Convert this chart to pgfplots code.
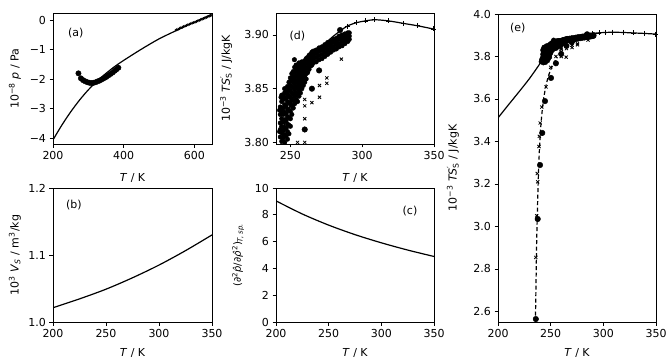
\documentclass[border=0pt]{standalone}
\usepackage{fontspec}
\setmainfont{DejaVu Sans}
\usepackage{pgfplots}
\usepackage{pgfplotstable}
\pgfplotsset{compat=1.18}

% spinodal pressure, panel (a)
\pgfplotstableread{
T p
200 -4.06
225 -3.56
250 -3.11
275 -2.71
300 -2.36
325 -2.06
350 -1.80
375 -1.565
400 -1.36
450 -0.98
500 -0.63
550 -0.34
600 -0.06
648 0.20
}\spin
\pgfplotstableread{
T p
272 -1.80
279 -1.97
285 -2.03
291 -2.07
297 -2.10
303 -2.12
309 -2.13
315 -2.12
321 -2.10
327 -2.07
333 -2.04
339 -2.00
345 -1.96
351 -1.92
357 -1.87
363 -1.82
369 -1.77
375 -1.71
380 -1.66
385 -1.61
}\spindots
\pgfplotstableread{
T p
548 -0.33
552 -0.31
556 -0.29
560 -0.26
564 -0.24
568 -0.22
572 -0.20
576 -0.18
580 -0.16
584 -0.14
588 -0.12
592 -0.10
596 -0.08
600 -0.07
604 -0.05
608 -0.03
612 -0.01
616 0.01
620 0.03
624 0.05
628 0.07
632 0.09
636 0.11
640 0.13
644 0.15
647 0.17
}\spinx
% TS' along the curve, panels (d) and (e)
\pgfplotstableread{
T y
200 3.511
210 3.573
220 3.634
230 3.697
240 3.768
245 3.811
250 3.835
255 3.853
260 3.866
265 3.877
270 3.886
275 3.893
280 3.899
285 3.904
289.6 3.9083
295.8 3.9114
302.1 3.9131
308.7 3.9142
318.5 3.9131
328.7 3.9108
338.5 3.9086
349.5 3.9056
}\tscurve
\pgfplotstableread{
T y
289.6 3.9083
295.8 3.9114
302.1 3.9131
308.7 3.9142
318.5 3.9131
328.7 3.9108
338.5 3.9086
349.5 3.9056
}\tsplus
% scattered simulation points
\pgfplotstableread{
T y
241 3.775
241.5 3.785
242 3.792
242 3.780
243 3.770
243.5 3.785
244 3.790
244.5 3.778
245 3.772
246 3.787
246.5 3.793
247 3.780
248 3.790
249 3.797
242.5 3.810
242.5 3.830
243.5 3.842
246 3.850
248 3.852
249 3.856
250 3.860
247.5 3.847
243 3.798
243 3.805
243 3.812
243 3.818
243 3.826
243 3.833
244 3.801
244 3.809
244 3.815
244 3.822
244 3.829
244 3.838
244 3.844
245 3.797
245 3.804
245 3.811
245 3.819
245 3.826
245 3.832
245 3.840
246 3.800
246 3.807
246 3.814
246 3.821
246 3.828
246 3.835
246 3.842
246 3.846
247 3.798
247 3.806
247 3.813
247 3.820
247 3.827
247 3.834
247 3.841
248 3.803
248 3.810
248 3.817
248 3.824
248 3.831
248 3.838
248 3.845
249 3.808
249 3.816
249 3.823
249 3.830
249 3.837
249 3.843
249 3.849
250 3.815
250 3.822
250 3.829
250 3.836
250 3.842
250 3.848
250 3.853
251 3.826
251 3.834
251 3.840
251 3.846
251 3.852
251 3.858
251 3.864
252 3.832
252 3.839
252 3.845
252 3.851
252 3.856
252 3.861
252 3.866
253 3.836
253 3.843
253 3.849
253 3.855
253 3.860
253 3.865
253 3.870
254 3.840
254 3.846
254 3.852
254 3.857
254 3.862
254 3.867
254 3.872
255 3.838
255 3.845
255 3.851
255 3.856
255 3.861
255 3.866
255 3.871
256 3.843
256 3.849
256 3.854
256 3.859
256 3.864
256 3.869
256 3.874
257 3.846
257 3.852
257 3.857
257 3.862
257 3.867
257 3.872
258 3.850
258 3.855
258 3.860
258 3.865
258 3.870
258 3.875
259 3.853
259 3.858
259 3.863
259 3.868
259 3.873
260 3.856
260 3.861
260 3.866
260 3.871
260 3.876
261 3.859
261 3.864
261 3.869
261 3.874
261 3.878
262 3.865
262 3.870
262 3.874
262 3.879
263 3.868
263 3.873
263 3.877
263 3.881
264 3.871
264 3.875
264 3.879
264 3.882
265 3.872
265 3.876
265 3.880
265 3.884
266 3.874
266 3.878
266 3.882
266 3.885
268 3.875
268 3.879
268 3.883
268 3.886
270 3.877
270 3.881
270 3.885
270 3.888
272 3.878
272 3.882
272 3.886
272 3.889
274 3.880
274 3.884
274 3.888
274 3.891
276 3.882
276 3.886
276 3.890
276 3.893
278 3.884
278 3.888
278 3.891
278 3.894
280 3.886
280 3.889
280 3.893
280 3.896
282 3.887
282 3.891
282 3.894
282 3.897
284 3.889
284 3.892
284 3.896
284 3.899
286 3.890
286 3.894
286 3.897
286 3.900
288 3.892
288 3.895
288 3.898
288 3.901
290 3.894
290 3.897
290 3.900
290 3.902
291 3.896
291 3.899
291 3.902
252.8 3.877
257.5 3.874
}\band
\pgfplotstableread{
T y
235.9 2.564
237.7 3.035
239.9 3.289
242 3.440
244.6 3.590
250.3 3.699
255 3.768
260 3.812
265 3.850
270 3.867
284.6 3.9046
}\bigdots
\pgfplotstableread{
T y
235.9 2.854
236.7 3.050
237.3 3.249
237.7 3.210
238.9 3.376
239.2 3.424
240 3.487
241.6 3.562
245.6 3.657
250 3.749
255 3.800
260 3.800
264.7 3.797
260 3.822
260 3.834
260 3.840
265 3.837
270.3 3.842
270.3 3.853
275.4 3.855
275.4 3.860
285.5 3.8775
}\crosses
\pgfplotstableread{
T y
235.5 2.550
236.0 2.700
236.6 2.900
237.3 3.050
238.1 3.200
239.2 3.350
240.6 3.470
242.5 3.570
245 3.650
248 3.710
252 3.760
256 3.795
}\dashfit

\pgfplotsset{
  panel/.style={
    scale only axis, clip mode=individual,
    tick align=outside, tick pos=left,
    major tick length=3.5pt,
    every tick/.style={black, line width=0.8pt},
    axis line style={line width=0.8pt},
    tick label style={font=\fontsize{11}{13}\selectfont},
    label style={font=\fontsize{11}{13}\selectfont},
    xlabel={\textit{T} / K},
  },
  curve/.style={black, line width=1.2pt, no markers, smooth},
}

\begin{document}
\begin{tikzpicture}
\useasboundingbox (0,0) rectangle (668pt,360pt);

% (a)
\begin{axis}[panel, at={(53pt,216pt)}, width=159pt, height=131pt,
  xmin=200, xmax=650, ymin=-4.2, ymax=0.25,
  xtick={200,400,600}, xticklabels={200,400,600},
  ytick={-4,-3,-2,-1,0}, yticklabels={−4,−3,−2,−1,0},
  ylabel={10\textsuperscript{−8} \textit{p} / Pa},
  xlabel style={at={(axis description cs:0.5,-0.26)}, anchor=center},
  ylabel style={at={(axis description cs:-0.24,0.5)}, anchor=center}]
\addplot[curve] table[x=T,y=p] {\spin};
\addplot[only marks, mark=*, mark size=2.7pt, black] table[x=T,y=p] {\spindots};
\addplot[only marks, mark=x, mark size=1.4pt, black, line width=0.7pt] table[x=T,y=p] {\spinx};
\node[font=\fontsize{11}{13}\selectfont] at (rel axis cs:0.143,0.847) {(a)};
\end{axis}

% (b)
\begin{axis}[panel, at={(53pt,38pt)}, width=159pt, height=134pt,
  xmin=200, xmax=350, ymin=1.0, ymax=1.2,
  xtick={200,250,300,350}, xticklabels={200,250,300,350},
  ytick={1.0,1.1,1.2}, yticklabels={1.0,1.1,1.2},
  ylabel={10\textsuperscript{3} \textit{V}\textsubscript{\textit{S}} / m\textsuperscript{3}/kg},
  xlabel style={at={(axis description cs:0.5,-0.23)}, anchor=center},
  ylabel style={at={(axis description cs:-0.24,0.5)}, anchor=center}]
\addplot[curve] coordinates {(200,1.0213) (225,1.0345) (250,1.0490) (275,1.0660) (300,1.0850) (325,1.1065) (350,1.1300)};
\node[font=\fontsize{11}{13}\selectfont] at (rel axis cs:0.132,0.873) {(b)};
\end{axis}

% (c)
\begin{axis}[panel, at={(276pt,38pt)}, width=158pt, height=134pt,
  xmin=200, xmax=350, ymin=0, ymax=10,
  xtick={200,250,300,350}, xticklabels={200,250,300,350},
  ytick={0,2,4,6,8,10}, yticklabels={0,2,4,6,8,10},
  ylabel={(∂\textsuperscript{2}\textit{\^{p}}/∂\textit{\^{ρ}}\textsuperscript{2})\textsubscript{\textit{T, sp.}}},
  xlabel style={at={(axis description cs:0.5,-0.23)}, anchor=center},
  ylabel style={at={(axis description cs:-0.24,0.5)}, anchor=center, font=\fontsize{10}{12}\selectfont}]
\addplot[curve] coordinates {(200,9.04) (225,8.06) (250,7.23) (275,6.52) (300,5.91) (325,5.37) (350,4.89)};
\node[font=\fontsize{11}{13}\selectfont] at (rel axis cs:0.848,0.831) {(c)};
\end{axis}

% (d)
\begin{axis}[panel, at={(276pt,216pt)}, width=158pt, height=131pt,
  xmin=240, xmax=350, ymin=3.7985, ymax=3.9205,
  xtick={250,300,350}, xticklabels={250,300,350},
  ytick={3.80,3.85,3.90}, yticklabels={3.80,3.85,3.90},
  ylabel={10\textsuperscript{−3} \textit{TS}\rlap{\textsuperscript{′}}\textsubscript{S} / J/kgK},
  xlabel style={at={(axis description cs:0.5,-0.26)}, anchor=center},
  ylabel style={at={(axis description cs:-0.316,0.5)}, anchor=center}]
\addplot[only marks, mark=*, mark size=2.3pt, black] table[x=T,y=y] {\band};
\addplot[only marks, mark=*, mark size=2.8pt, black] table[x=T,y=y] {\bigdots};
\addplot[only marks, mark=x, mark size=2.2pt, black, line width=0.8pt] table[x=T,y=y] {\crosses};
\addplot[curve] table[x=T,y=y] {\tscurve};
\addplot[only marks, mark=+, mark size=2.5pt, black, line width=0.6pt] table[x=T,y=y] {\tsplus};
\node[font=\fontsize{11}{13}\selectfont] at (rel axis cs:0.135,0.824) {(d)};
\end{axis}

% (e)
\begin{axis}[panel, at={(498pt,38pt)}, width=158pt, height=308pt,
  xmin=200, xmax=350, ymin=2.55, ymax=4.0,
  xtick={200,250,300,350}, xticklabels={200,250,300,350},
  ytick={2.6,2.8,3.0,3.2,3.4,3.6,3.8,4.0}, yticklabels={2.6,2.8,3.0,3.2,3.4,3.6,3.8,4.0},
  ylabel={10\textsuperscript{−3} \textit{TS}\rlap{\textsuperscript{′}}\textsubscript{S} / J/kgK},
  xlabel style={at={(axis description cs:0.5,-0.10)}, anchor=center},
  ylabel style={at={(axis description cs:-0.285,0.5)}, anchor=center}]
\addplot[black, line width=1.2pt, dash pattern=on 4pt off 2.5pt, smooth] table[x=T,y=y] {\dashfit};
\addplot[only marks, mark=*, mark size=2.3pt, black] table[x=T,y=y] {\band};
\addplot[only marks, mark=*, mark size=2.8pt, black] table[x=T,y=y] {\bigdots};
\addplot[only marks, mark=x, mark size=2.2pt, black, line width=0.8pt] table[x=T,y=y] {\crosses};
\addplot[curve] table[x=T,y=y] {\tscurve};
\addplot[only marks, mark=+, mark size=2.5pt, black, line width=0.6pt] table[x=T,y=y] {\tsplus};
\node[font=\fontsize{11}{13}\selectfont] at (rel axis cs:0.125,0.956) {(e)};
\end{axis}
\end{tikzpicture}
\end{document}
